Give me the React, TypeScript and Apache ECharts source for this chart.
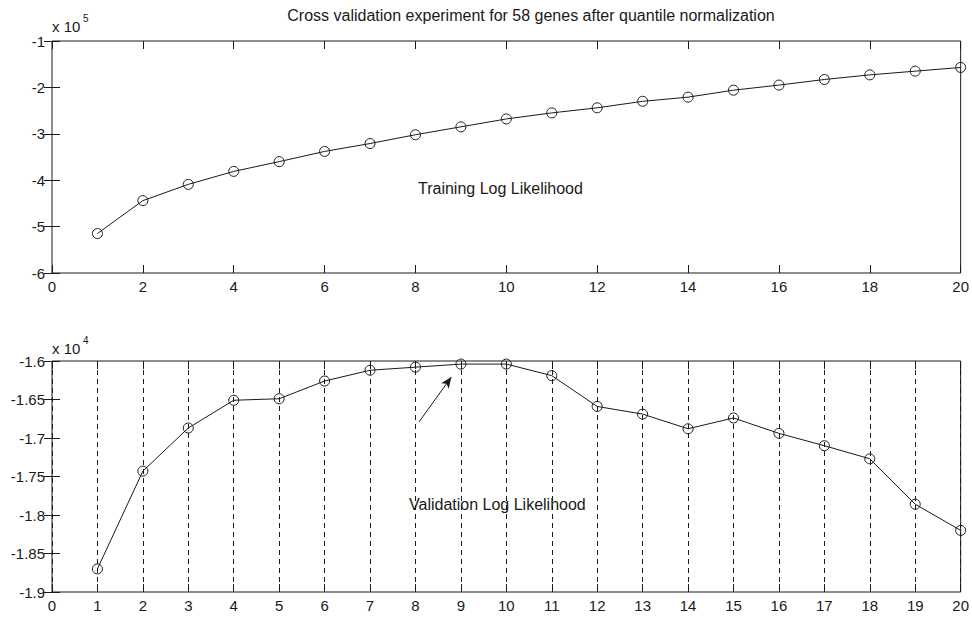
import React, { useEffect, useRef } from "react";
import * as echarts from "echarts";

const iterations = [1, 2, 3, 4, 5, 6, 7, 8, 9, 10, 11, 12, 13, 14, 15, 16, 17, 18, 19, 20];
const trainingLL = [
  -515000, -444000, -409000, -381000, -360000, -338000, -321000, -302000, -285000, -268000,
  -255000, -244000, -230000, -221000, -206000, -195000, -183000, -173000, -165000, -157000,
];
const validationLL = [
  -18700, -17430, -16870, -16510, -16490, -16260, -16120, -16080, -16040, -16040,
  -16190, -16590, -16690, -16880, -16740, -16940, -17100, -17270, -17860, -18200,
];
const titleText = "Cross validation experiment for 58 genes after quantile normalization";
const trainingLabel = "Training Log Likelihood";
const validationLabel = "Validation Log Likelihood";
const arrowTail = [8.08, -16790];
const arrowHead = [8.79, -16208];

const FONT = "Liberation Sans, Arial, sans-serif";
const INK = "#1a1a1a";

export default function App() {
  const ref = useRef<HTMLDivElement>(null);

  useEffect(() => {
    if (!ref.current) return;
    const chart = echarts.init(ref.current, undefined, { renderer: "svg" });

    const tickStyle = { inside: true, length: 8, lineStyle: { color: INK, width: 1 } };
    const labelStyle = { color: INK, fontFamily: FONT, fontSize: 15 };

    const xAxisBase = (gridIndex: number, interval: number, position: "top" | "bottom", showLabel: boolean, split: boolean) => ({
      type: "value",
      gridIndex,
      min: 0,
      max: 20,
      interval,
      position,
      axisLine: { show: false },
      axisTick: { show: true, ...tickStyle },
      axisLabel: { show: showLabel, margin: 6, ...labelStyle },
      splitLine: split
        ? { show: true, lineStyle: { color: INK, width: 1, type: [5, 4] } }
        : { show: false },
    });

    const yAxisBase = (gridIndex: number, min: number, max: number, interval: number, position: "left" | "right", showLabel: boolean, scale: number) => ({
      type: "value",
      gridIndex,
      min,
      max,
      interval,
      position,
      axisLine: { show: false },
      axisTick: { show: true, ...tickStyle },
      axisLabel: {
        show: showLabel,
        margin: 7,
        ...labelStyle,
        formatter: (v: number) => String(parseFloat((v / scale).toFixed(2))),
      },
      splitLine: { show: false },
    });

    const seriesStyle = {
      type: "line",
      symbol: "circle",
      symbolSize: 10,
      clip: false,
      lineStyle: { color: INK, width: 1 },
      itemStyle: { color: "rgba(255,255,255,0)", borderColor: INK, borderWidth: 1 },
    };

    chart.setOption({
      animation: false,
      backgroundColor: "#ffffff",
      grid: [
        { left: 52, top: 41, width: 913, height: 232, show: true, borderColor: INK, borderWidth: 1, backgroundColor: "transparent" },
        { left: 52, top: 361, width: 913, height: 231, show: true, borderColor: INK, borderWidth: 1, backgroundColor: "transparent" },
      ],
      xAxis: [
        xAxisBase(0, 2, "bottom", true, false),
        xAxisBase(0, 2, "top", false, false),
        xAxisBase(1, 1, "bottom", true, true),
        xAxisBase(1, 1, "top", false, false),
      ],
      yAxis: [
        yAxisBase(0, -600000, -100000, 100000, "left", true, 100000),
        yAxisBase(0, -600000, -100000, 100000, "right", false, 100000),
        yAxisBase(1, -19000, -16000, 500, "left", true, 10000),
        yAxisBase(1, -19000, -16000, 500, "right", false, 10000),
      ],
      series: [
        {
          ...seriesStyle,
          name: "Training",
          xAxisIndex: 0,
          yAxisIndex: 0,
          data: iterations.map((x, i) => [x, trainingLL[i]]),
        },
        {
          ...seriesStyle,
          name: "Validation",
          xAxisIndex: 2,
          yAxisIndex: 2,
          data: iterations.map((x, i) => [x, validationLL[i]]),
          markLine: {
            silent: true,
            symbol: ["none", "arrow"],
            symbolSize: [7, 11],
            label: { show: false },
            lineStyle: { color: INK, width: 1, type: "solid" },
            data: [[{ coord: arrowTail }, { coord: arrowHead }]],
          },
        },
      ],
      graphic: [
        { type: "text", x: 531, y: 15, style: { text: titleText, font: `16px ${FONT}`, fill: INK, align: "center", verticalAlign: "middle" } },
        { type: "text", x: 52, y: 26, style: { text: "x 10", font: `15px ${FONT}`, fill: INK, align: "left", verticalAlign: "middle" } },
        { type: "text", x: 83, y: 18, style: { text: "5", font: `10px ${FONT}`, fill: INK, align: "left", verticalAlign: "middle" } },
        { type: "text", x: 52, y: 348, style: { text: "x 10", font: `15px ${FONT}`, fill: INK, align: "left", verticalAlign: "middle" } },
        { type: "text", x: 83, y: 340, style: { text: "4", font: `10px ${FONT}`, fill: INK, align: "left", verticalAlign: "middle" } },
        { type: "text", x: 418, y: 188, style: { text: trainingLabel, font: `16px ${FONT}`, fill: INK, align: "left", verticalAlign: "middle" } },
        { type: "text", x: 409, y: 504, style: { text: validationLabel, font: `16px ${FONT}`, fill: INK, align: "left", verticalAlign: "middle" } },
      ],
    });

    return () => chart.dispose();
  }, []);

  return (
    <div
      ref={ref}
      style={{ position: "fixed", left: 0, top: 0, width: 972, height: 618, background: "#fff" }}
    />
  );
}
